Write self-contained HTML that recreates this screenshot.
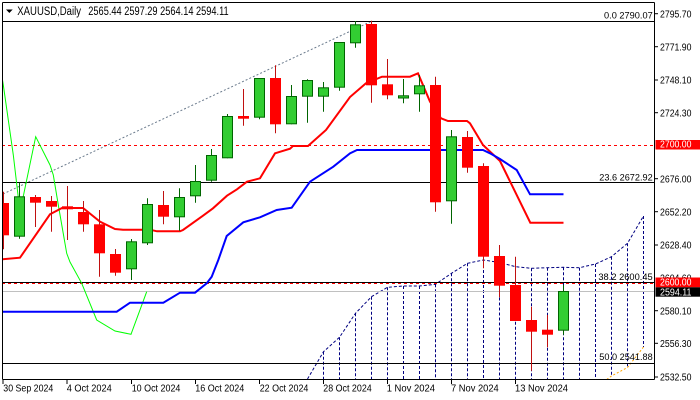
<!DOCTYPE html>
<html><head><meta charset="utf-8"><style>
html,body{margin:0;padding:0;background:#fff;}
svg{display:block;}
text{font-family:"Liberation Sans",sans-serif;}
</style></head><body>
<svg width="700" height="400" viewBox="0 0 700 400" xmlns="http://www.w3.org/2000/svg">
<rect width="700" height="400" fill="#fff"/>
<defs><clipPath id="pc"><rect x="2.5" y="2.5" width="652" height="377"/></clipPath></defs>
<g clip-path="url(#pc)">
<g stroke="#000080" stroke-width="1" stroke-dasharray="3,2" fill="none">
<polyline points="307.5,379 323.5,351.7 339.5,337.3 355.5,313.3 371.5,296.7 387.5,287.3 403.5,286 419.5,286 435.5,284.3 451.5,273.3 467.5,263.3 483.5,260 499.5,262.5 515.5,266.7 531.5,268.3 547.5,267.7 563.5,267.3 579.5,267.7 595.5,264 611.5,256.7 627.5,243.3 643.5,216"/>
<line x1="323.5" y1="351.7" x2="323.5" y2="379"/>
<line x1="339.5" y1="337.3" x2="339.5" y2="379"/>
<line x1="355.5" y1="313.3" x2="355.5" y2="379"/>
<line x1="371.5" y1="296.7" x2="371.5" y2="379"/>
<line x1="387.5" y1="287.3" x2="387.5" y2="379"/>
<line x1="403.5" y1="286" x2="403.5" y2="379"/>
<line x1="419.5" y1="286" x2="419.5" y2="379"/>
<line x1="435.5" y1="284.3" x2="435.5" y2="379"/>
<line x1="451.5" y1="273.3" x2="451.5" y2="379"/>
<line x1="467.5" y1="263.3" x2="467.5" y2="379"/>
<line x1="483.5" y1="260" x2="483.5" y2="379"/>
<line x1="499.5" y1="262.5" x2="499.5" y2="379"/>
<line x1="515.5" y1="266.7" x2="515.5" y2="379"/>
<line x1="531.5" y1="268.3" x2="531.5" y2="379"/>
<line x1="547.5" y1="267.7" x2="547.5" y2="379"/>
<line x1="563.5" y1="267.3" x2="563.5" y2="379"/>
<line x1="579.5" y1="267.7" x2="579.5" y2="379"/>
<line x1="595.5" y1="264" x2="595.5" y2="379"/>
<line x1="611.5" y1="256.7" x2="611.5" y2="376"/>
<line x1="627.5" y1="243.3" x2="627.5" y2="367.5"/>
<line x1="643.5" y1="216" x2="643.5" y2="347"/>
</g>
<polyline points="606.7,379.5 611.5,376 627.5,367.5 643.5,347" fill="none" stroke="#ffa500" stroke-width="1" stroke-dasharray="2,2"/>
<line x1="3" y1="194" x2="371" y2="21.5" stroke="#6a7a8c" stroke-width="1" stroke-dasharray="2,2"/>
<line x1="2" y1="21.5" x2="655" y2="21.5" stroke="#000" stroke-width="1"/>
<line x1="2" y1="145.5" x2="655" y2="145.5" stroke="#ff0000" stroke-width="1" stroke-dasharray="3,3"/>
<line x1="2" y1="182.5" x2="655" y2="182.5" stroke="#000" stroke-width="1"/>
<line x1="2" y1="282.5" x2="655" y2="282.5" stroke="#000" stroke-width="1"/>
<line x1="2" y1="283.5" x2="655" y2="283.5" stroke="#ff0000" stroke-width="1" stroke-dasharray="3,3"/>
<line x1="2" y1="291.5" x2="655" y2="291.5" stroke="#c0c0c0" stroke-width="1"/>
<line x1="2" y1="363.5" x2="655" y2="363.5" stroke="#000" stroke-width="1"/>
<polyline points="2.5,80 3.3,85 13.3,155 20,212 35.7,136.7 50,165 53.3,175 58.3,205 66.7,253.3 70,262 81.7,283.3 96.7,320 115,331 131,334.3 146.7,291.7" fill="none" stroke="#00ff00" stroke-width="1"/>
<polyline points="2,259.3 20,257.7 50,214.3 62,208 83,208 100,221.7 115,229 123,229.7 150,229.7 157,231.3 180,231.3 183,230 203,215.7 213,208.3 227,195.7 237,189.3 247,181.7 260,178.3 275,153.3 290,148.7 293,146 308,146 326,130 350,97 366,83.3 382,76.7 410,76.7 418,73.3 430,101.7 441,118.3 448,121 467,121 470,123.3 483,145 500,161 530.3,222.7 563.5,222.7" fill="none" stroke="#ff0000" stroke-width="2"/>
<polyline points="2,311.7 116.7,311.7 130,302.7 163.3,302.7 180,292.7 195,292.7 206.7,283.3 211.7,276.7 218.3,260 226.7,236 243.3,222.3 260,217.3 276.7,210 291.7,207.7 310,181.7 333.3,166.7 350,153.3 357,150 483,150 490,153.3 500,159 516.7,170 530,194.3 563.5,194.3" fill="none" stroke="#0000ff" stroke-width="2"/>
<g stroke-width="1">
<g stroke="#c01010">
<line x1="3.5" y1="191.7" x2="3.5" y2="249.3"/>
<line x1="35.5" y1="195" x2="35.5" y2="227"/>
<line x1="51.5" y1="196" x2="51.5" y2="231.7"/>
<line x1="67.5" y1="186" x2="67.5" y2="240"/>
<line x1="83.5" y1="201" x2="83.5" y2="231.7"/>
<line x1="99.5" y1="210" x2="99.5" y2="276.7"/>
<line x1="115.5" y1="249" x2="115.5" y2="275.7"/>
<line x1="163.5" y1="191" x2="163.5" y2="224.3"/>
<line x1="243.5" y1="89" x2="243.5" y2="125.7"/>
<line x1="275.5" y1="65.3" x2="275.5" y2="133.3"/>
<line x1="371.5" y1="20.7" x2="371.5" y2="102.7"/>
<line x1="387.5" y1="59" x2="387.5" y2="99.3"/>
<line x1="435.5" y1="76.7" x2="435.5" y2="211.7"/>
<line x1="467.5" y1="131" x2="467.5" y2="172.7"/>
<line x1="483.5" y1="163.3" x2="483.5" y2="268.3"/>
<line x1="499.5" y1="245" x2="499.5" y2="297.3"/>
<line x1="515.5" y1="256.7" x2="515.5" y2="321"/>
<line x1="531.5" y1="306.7" x2="531.5" y2="370.7"/>
<line x1="547.5" y1="315" x2="547.5" y2="347.3"/>
</g>
<g fill="#ff0000" stroke="none">
<rect x="-2" y="203" width="11" height="32.3"/>
<rect x="30" y="197" width="11" height="5.7"/>
<rect x="46" y="201" width="11" height="5.7"/>
<rect x="62" y="206.3" width="11" height="3"/>
<rect x="78" y="212" width="11" height="12.3"/>
<rect x="94" y="224.3" width="11" height="29"/>
<rect x="110" y="254" width="11" height="18.7"/>
<rect x="158" y="205" width="11" height="11.7"/>
<rect x="238" y="116" width="11" height="2.7"/>
<rect x="270" y="78" width="11" height="46.3"/>
<rect x="366" y="24" width="11" height="61.3"/>
<rect x="382" y="84.3" width="11" height="11"/>
<rect x="430" y="85" width="11" height="117.3"/>
<rect x="462" y="137" width="11" height="30.7"/>
<rect x="478" y="166" width="11" height="90.7"/>
<rect x="494" y="256" width="11" height="29.7"/>
<rect x="510" y="285" width="11" height="36"/>
<rect x="526" y="320" width="11" height="11.7"/>
<rect x="542" y="329.7" width="11" height="5"/>
</g>
<g stroke="#006400">
<line x1="19.5" y1="182.7" x2="19.5" y2="238.7"/>
<line x1="131.5" y1="239" x2="131.5" y2="280"/>
<line x1="147.5" y1="198.3" x2="147.5" y2="245"/>
<line x1="179.5" y1="188.3" x2="179.5" y2="230.7"/>
<line x1="195.5" y1="165" x2="195.5" y2="202.7"/>
<line x1="211.5" y1="149" x2="211.5" y2="181.7"/>
<line x1="227.5" y1="114" x2="227.5" y2="158.3"/>
<line x1="259.5" y1="78" x2="259.5" y2="119.3"/>
<line x1="291.5" y1="85" x2="291.5" y2="124.3"/>
<line x1="307.5" y1="79.3" x2="307.5" y2="122.7"/>
<line x1="323.5" y1="82" x2="323.5" y2="111.7"/>
<line x1="339.5" y1="42" x2="339.5" y2="90.7"/>
<line x1="355.5" y1="21" x2="355.5" y2="47.7"/>
<line x1="403.5" y1="79" x2="403.5" y2="103.3"/>
<line x1="419.5" y1="75" x2="419.5" y2="111.7"/>
<line x1="451.5" y1="130" x2="451.5" y2="223.7"/>
<line x1="563.5" y1="285" x2="563.5" y2="334.7"/>
</g>
<g fill="#32cd32" stroke="#006400">
<rect x="14.5" y="196.8" width="10" height="39.4"/>
<rect x="126.5" y="241.8" width="10" height="27"/>
<rect x="142.5" y="204.5" width="10" height="38.3"/>
<rect x="174.5" y="197.5" width="10" height="19.3"/>
<rect x="190.5" y="181.5" width="10" height="14.3"/>
<rect x="206.5" y="155.5" width="10" height="24.7"/>
<rect x="222.5" y="116.5" width="10" height="41.3"/>
<rect x="254.5" y="78.5" width="10" height="38.7"/>
<rect x="286.5" y="96.5" width="10" height="27.3"/>
<rect x="302.5" y="80.5" width="10" height="15.7"/>
<rect x="318.5" y="87.8" width="10" height="8.4"/>
<rect x="334.5" y="42.5" width="10" height="44.7"/>
<rect x="350.5" y="24.8" width="10" height="18"/>
<rect x="398.5" y="95.8" width="10" height="2.2"/>
<rect x="414.5" y="85.8" width="10" height="8"/>
<rect x="446.5" y="136.8" width="10" height="64"/>
<rect x="558.5" y="291.5" width="10" height="38.7"/>
</g>
</g>
<g font-size="9.5" fill="#000" text-anchor="end">
<text x="652.7" y="18.3" textLength="48.7" lengthAdjust="spacingAndGlyphs">0.0 2790.07</text>
<text x="652.7" y="180.7" textLength="53.4" lengthAdjust="spacingAndGlyphs">23.6 2672.92</text>
<text x="652.7" y="280" textLength="54.3" lengthAdjust="spacingAndGlyphs">38.2 2600.45</text>
<text x="652.7" y="360" textLength="53.4" lengthAdjust="spacingAndGlyphs">50.0 2541.88</text>
</g>
</g>
<g stroke="#000" stroke-width="1" fill="none">
<line x1="2.5" y1="2.5" x2="654.5" y2="2.5"/>
<line x1="2.5" y1="2.5" x2="2.5" y2="379.5"/>
<line x1="654.5" y1="2.5" x2="654.5" y2="379.5"/>
<line x1="2.5" y1="379.5" x2="654.5" y2="379.5"/>
<line x1="654" y1="13.7" x2="658" y2="13.7"/>
<line x1="654" y1="46.7" x2="658" y2="46.7"/>
<line x1="654" y1="80" x2="658" y2="80"/>
<line x1="654" y1="112.7" x2="658" y2="112.7"/>
<line x1="654" y1="178.7" x2="658" y2="178.7"/>
<line x1="654" y1="211.7" x2="658" y2="211.7"/>
<line x1="654" y1="245" x2="658" y2="245"/>
<line x1="654" y1="310.7" x2="658" y2="310.7"/>
<line x1="654" y1="343.3" x2="658" y2="343.3"/>
<line x1="654" y1="377" x2="658" y2="377"/>
<line x1="3" y1="379" x2="3" y2="384"/>
<line x1="67" y1="379" x2="67" y2="384"/>
<line x1="131.5" y1="379" x2="131.5" y2="384"/>
<line x1="195.5" y1="379" x2="195.5" y2="384"/>
<line x1="259.5" y1="379" x2="259.5" y2="384"/>
<line x1="323.5" y1="379" x2="323.5" y2="384"/>
<line x1="387.5" y1="379" x2="387.5" y2="384"/>
<line x1="451.5" y1="379" x2="451.5" y2="384"/>
<line x1="515.5" y1="379" x2="515.5" y2="384"/>
</g>
<g font-size="10" fill="#000">
<text x="660" y="17.3" textLength="31.5" lengthAdjust="spacingAndGlyphs">2795.70</text>
<text x="660" y="50.3" textLength="31.5" lengthAdjust="spacingAndGlyphs">2771.90</text>
<text x="660" y="83.6" textLength="31.5" lengthAdjust="spacingAndGlyphs">2748.10</text>
<text x="660" y="116.3" textLength="31.5" lengthAdjust="spacingAndGlyphs">2724.30</text>
<text x="660" y="182.3" textLength="31.5" lengthAdjust="spacingAndGlyphs">2676.00</text>
<text x="660" y="215.3" textLength="31.5" lengthAdjust="spacingAndGlyphs">2652.20</text>
<text x="660" y="248.6" textLength="31.5" lengthAdjust="spacingAndGlyphs">2628.40</text>
<text x="660" y="281.3" textLength="31.5" lengthAdjust="spacingAndGlyphs">2604.60</text>
<text x="660" y="314.3" textLength="31.5" lengthAdjust="spacingAndGlyphs">2580.10</text>
<text x="660" y="346.9" textLength="31.5" lengthAdjust="spacingAndGlyphs">2556.30</text>
<text x="660" y="380.6" textLength="31.5" lengthAdjust="spacingAndGlyphs">2532.50</text>
</g>
<rect x="655.5" y="140" width="44.5" height="9.5" fill="#ff0000"/>
<text x="660" y="147.7" font-size="10" fill="#fff" textLength="31.5" lengthAdjust="spacingAndGlyphs">2700.00</text>
<rect x="655.5" y="277.5" width="44.5" height="9.8" fill="#ff0000"/>
<text x="660" y="285.6" font-size="10" fill="#fff" textLength="31.5" lengthAdjust="spacingAndGlyphs">2600.00</text>
<rect x="655.5" y="287.3" width="44.5" height="9.4" fill="#000"/>
<text x="660" y="295.3" font-size="10" fill="#fff" textLength="31.5" lengthAdjust="spacingAndGlyphs">2594.11</text>
<g font-size="10" fill="#000">
<text x="3.3" y="391.5" textLength="50" lengthAdjust="spacingAndGlyphs">30 Sep 2024</text>
<text x="66.7" y="391.5" textLength="45" lengthAdjust="spacingAndGlyphs">4 Oct 2024</text>
<text x="131.7" y="391.5" textLength="48.7" lengthAdjust="spacingAndGlyphs">10 Oct 2024</text>
<text x="195.3" y="391.5" textLength="49" lengthAdjust="spacingAndGlyphs">16 Oct 2024</text>
<text x="259.7" y="391.5" textLength="48.7" lengthAdjust="spacingAndGlyphs">22 Oct 2024</text>
<text x="323.3" y="391.5" textLength="48.4" lengthAdjust="spacingAndGlyphs">28 Oct 2024</text>
<text x="386.7" y="391.5" textLength="48.3" lengthAdjust="spacingAndGlyphs">1 Nov 2024</text>
<text x="451" y="391.5" textLength="47.7" lengthAdjust="spacingAndGlyphs">7 Nov 2024</text>
<text x="515" y="391.5" textLength="53" lengthAdjust="spacingAndGlyphs">13 Nov 2024</text>
</g>
<polygon points="6,9.5 12.7,9.5 9.35,13" fill="#000"/>
<g font-size="11.5" fill="#000">
<text x="17.3" y="15.2" textLength="63.7" lengthAdjust="spacingAndGlyphs">XAUUSD,Daily</text>
<text x="88.3" y="15.2" textLength="140.4" lengthAdjust="spacingAndGlyphs">2565.44 2597.29 2564.14 2594.11</text>
</g>
</svg>
</body></html>
